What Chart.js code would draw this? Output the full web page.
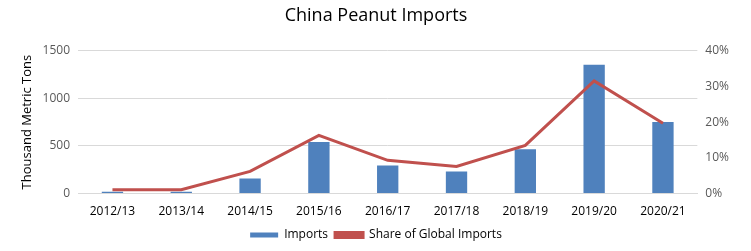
<!DOCTYPE html>
<html>
<head>
<meta charset="utf-8">
<script src="https://cdn.jsdelivr.net/npm/chart.js@4"></script>
<style>
  html, body { margin: 0; padding: 0; background: #fff; }
  #wrap { width: 751px; height: 251px; }
</style>
</head>
<body>
<div id="wrap"><canvas id="c" width="751" height="251"></canvas></div>
<script>
// marketing years
const years = ['2012/13','2013/14','2014/15','2015/16','2016/17','2017/18','2018/19','2019/20','2020/21'];
// thousand metric tons
const imports = [20, 20, 158, 540, 296, 232, 465, 1352, 750];
// percent of world imports
const globalShare = [1.1, 1.1, 6.2, 16.3, 9.3, 7.6, 13.5, 31.5, 19.7];

const font = "'Open Sans', 'Liberation Sans', sans-serif";
const ctx = document.getElementById('c').getContext('2d');

new Chart(ctx, {
    type: 'bar',
    data: {
        labels: years,
        datasets: [{
            type: 'line',
            label: 'Share of Global Imports',
            data: globalShare,
            yAxisID: 'y1',
            borderColor: '#C0504D',
            backgroundColor: '#C0504D',
            borderWidth: 3,
            pointRadius: 0,
            tension: 0,
            order: 0
        }, {
            label: 'Imports',
            data: imports,
            yAxisID: 'y',
            backgroundColor: '#4F81BD',
            barPercentage: 0.62,
            categoryPercentage: 0.5,
            order: 1
        }]
    },
    options: {
        responsive: false,
        animation: false,
        layout: { padding: { left: 15, right: 14, top: 0, bottom: 0 } },
        plugins: {
            title: {
                display: true,
                text: 'China Peanut Imports',
                color: '#000',
                font: { family: font, size: 18, weight: 'normal' },
                padding: { top: 5, bottom: 24 }
            },
            legend: {
                position: 'bottom',
                reverse: true,
                labels: {
                    color: '#000',
                    font: { family: font, size: 12 },
                    boxWidth: 28,
                    boxHeight: 5,
                    padding: 7
                }
            }
        },
        scales: {
            x: {
                grid: { display: false },
                border: { color: '#d9d9d9' },
                ticks: { color: '#000', font: { family: font, size: 12 }, maxRotation: 0 }
            },
            y: {
                position: 'left',
                min: 0,
                max: 1500,
                ticks: {
                    stepSize: 500,
                    color: '#595959',
                    font: { family: font, size: 12 },
                    padding: 8,
                    callback: v => String(v)
                },
                grid: { color: '#d9d9d9', drawTicks: false },
                border: { display: false },
                title: {
                    display: true,
                    text: 'Thousand Metric Tons',
                    color: '#000',
                    font: { family: font, size: 13 },
                    padding: { bottom: 0 }
                }
            },
            y1: {
                position: 'right',
                min: 0,
                max: 40,
                ticks: {
                    stepSize: 10,
                    color: '#595959',
                    font: { family: font, size: 12 },
                    padding: 8,
                    callback: v => v + '%'
                },
                grid: { display: false, drawTicks: false },
                border: { display: false }
            }
        }
    }
});
</script>
</body>
</html>
